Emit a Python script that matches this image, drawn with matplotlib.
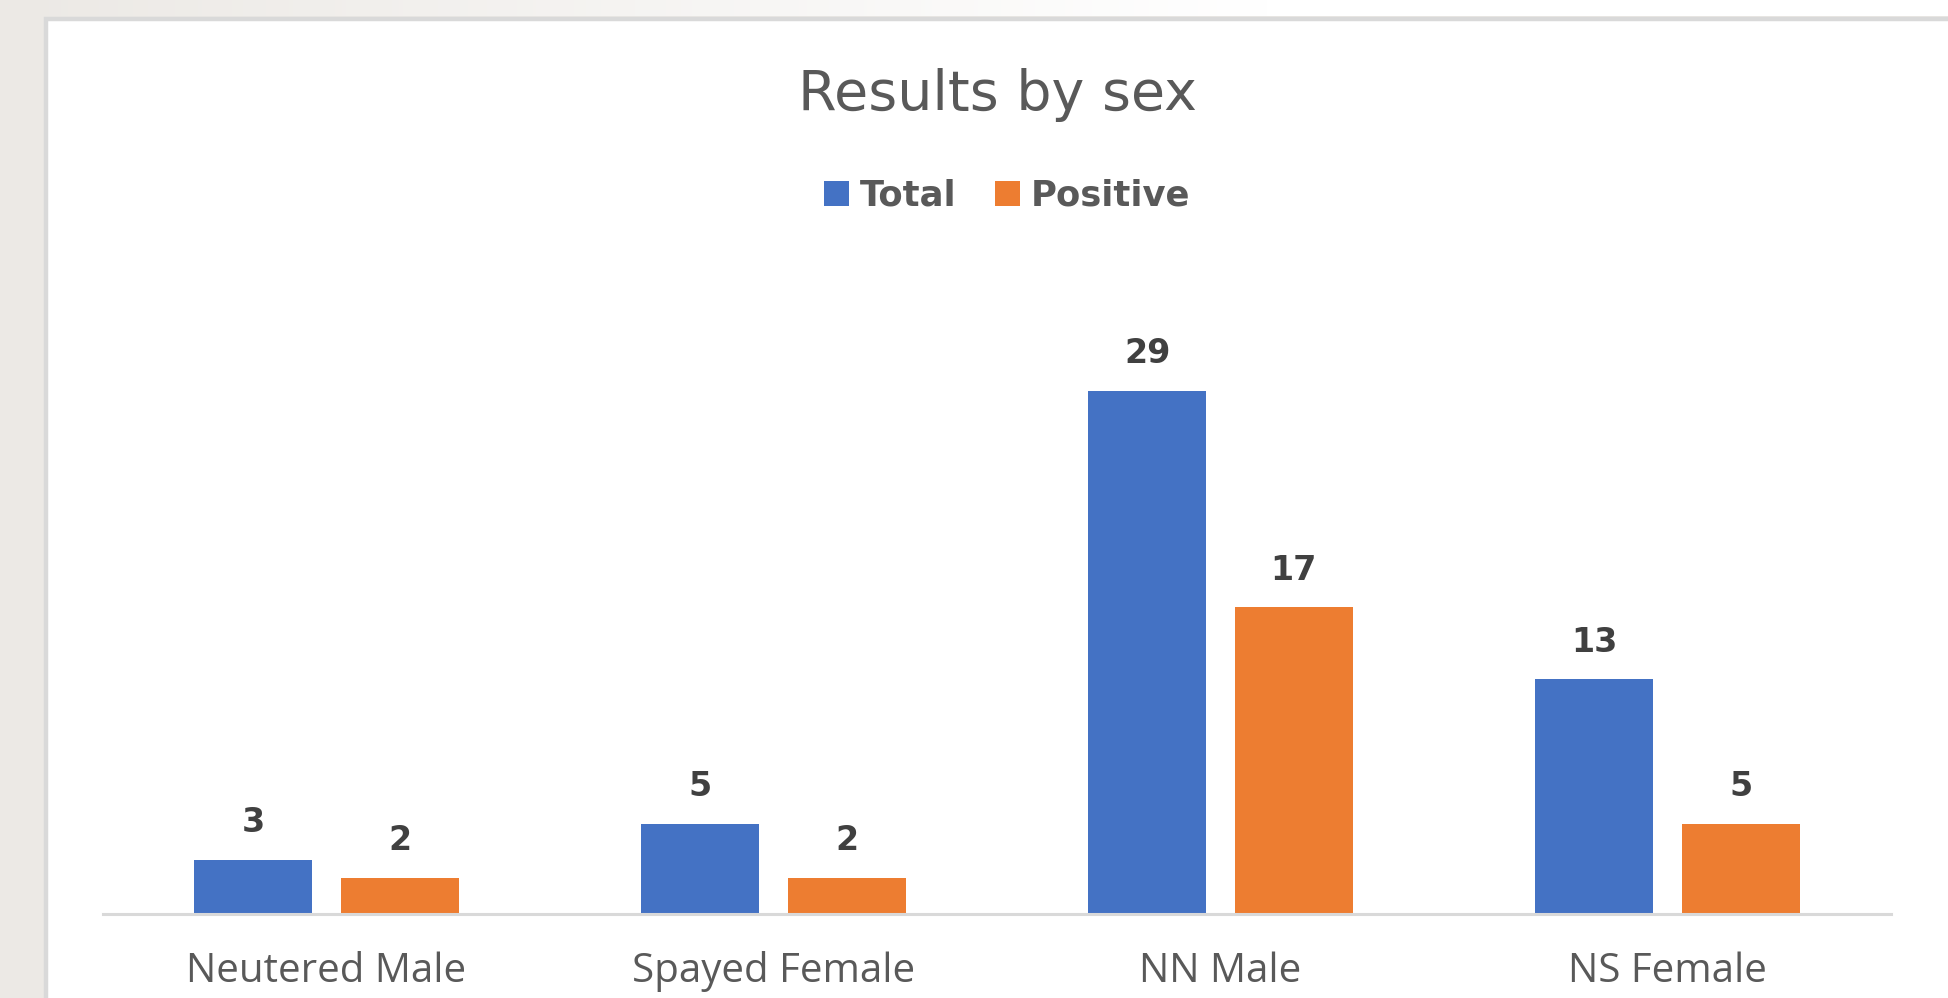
import matplotlib.pyplot as plt
import matplotlib.patches as mpatches
import numpy as np

categories = ['Neutered Male', 'Spayed Female', 'NN Male', 'NS Female']
total = [3, 5, 29, 13]
positive = [2, 2, 17, 5]

W, H = 1948, 998
fig = plt.figure(figsize=(W / 100, H / 100), dpi=100, facecolor='#ece9e5')

# top strip: slide background fading to white towards the right
strip = fig.add_axes([0, 1 - 16 / H, 1, 16 / H], zorder=-2)
grad = np.linspace(0, 1, 512)
grad = np.clip(grad / 0.65, 0, 1)
c0 = np.array([0xec, 0xe9, 0xe5]) / 255
c1 = np.array([1.0, 1.0, 1.0])
img = (c0[None, :] * (1 - grad[:, None]) + c1[None, :] * grad[:, None])[None, :, :]
strip.imshow(img, aspect='auto', extent=[0, 1, 0, 1])
strip.axis('off')

# chart box
box = mpatches.Rectangle((46 / W, -0.05), (W - 46 + 10) / W, 1.05 - 18.5 / H,
                         transform=fig.transFigure, facecolor='white',
                         edgecolor='#d9d9d9', linewidth=3.2, zorder=-1)
fig.patches.append(box)

ax = fig.add_axes([103 / W, (H - 914) / H, (1891 - 103) / W, 35 * 18.04 / H])
ax.set_facecolor('none')

x = np.arange(len(categories))
off = 0.164
width = 0.264
b1 = ax.bar(x - off, total, width, color='#4472c4', label='Total')
b2 = ax.bar(x + off, positive, width, color='#ed7d31', label='Positive')

for bars in (b1, b2):
    for rect in bars:
        h = rect.get_height()
        ax.annotate(f'{h:g}', xy=(rect.get_x() + rect.get_width() / 2, h),
                    xytext=(0, 20), textcoords='offset points',
                    ha='center', va='baseline', fontsize=24, fontweight='bold',
                    color='#404040', family='DejaVu Sans')

ax.set_xlim(-0.5, 3.5)
ax.set_ylim(0, 35)
ax.set_xticks(x)
ax.set_xticklabels(categories, family='Open Sans', fontsize=29, color='#595959')
ax.tick_params(axis='x', length=0, pad=27)
ax.set_yticks([])
for s in ('top', 'left', 'right'):
    ax.spines[s].set_visible(False)
ax.spines['bottom'].set_color('#d9d9d9')
ax.spines['bottom'].set_linewidth(2.2)

fig.text(997 / W, 1 - 110 / H, 'Results by sex', ha='center', va='baseline',
         fontsize=40, color='#595959', family='DejaVu Sans')

leg = ax.legend(loc='center', bbox_to_anchor=(1007 / W, 1 - 196 / H),
                bbox_transform=fig.transFigure, ncol=2, frameon=False,
                prop={'family': 'DejaVu Sans', 'size': 25.5, 'weight': 'bold'},
                handlelength=0.7, handleheight=0.7,
                handletextpad=0.3, columnspacing=1.1, labelcolor='#595959')

fig.savefig('out.png', dpi=100, facecolor=fig.get_facecolor())
